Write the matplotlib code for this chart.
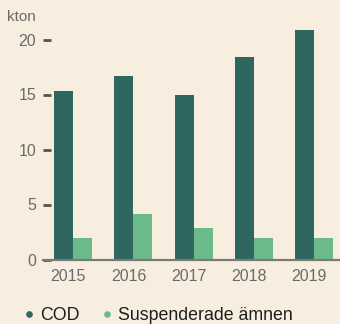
import numpy as np
import matplotlib.pyplot as plt
from matplotlib.lines import Line2D

# utsläpp till vatten, kton per år
years = ['2015', '2016', '2017', '2018', '2019']
cod = [15.3, 16.7, 15.0, 18.4, 20.9]
susp = [2.0, 4.1, 2.9, 2.0, 2.0]

bg = '#f7eedf'
c_cod = '#2f6660'
c_susp = '#6bbb8a'
grey = '#6a6a6a'

plt.rcParams['font.family'] = ['Liberation Sans', 'DejaVu Sans']

fig = plt.figure(figsize=(3.4, 3.24), dpi=100, facecolor=bg)
ax = fig.add_axes([43 / 340, 64.5 / 324, 297 / 340, 231 / 324], facecolor=bg)

x = np.arange(len(years))
w = 0.315
ax.bar(x - w / 2, cod, w, color=c_cod)
ax.bar(x + w / 2, susp, w, color=c_susp)

ax.set_xlim(-0.5, 4.43)
ax.set_ylim(0, 21)
ax.set_yticks([0, 5, 10, 15, 20])
ax.set_xticks(x - 0.08)
ax.set_xticklabels(years)

for s in ['top', 'right', 'left']:
    ax.spines[s].set_visible(False)
ax.spines['bottom'].set_color('#7a7a7a')
ax.spines['bottom'].set_linewidth(1.6)

ax.tick_params(axis='y', direction='in', length=6, width=2, color='#555555',
               pad=5, labelsize=11.5, labelcolor=grey)
ax.tick_params(axis='x', length=0, pad=7, labelsize=11.5, labelcolor=grey)

fig.text(7 / 340, 1 - 17 / 324, 'kton', fontsize=11, color=grey, va='center')

handles = [Line2D([], [], ls='', marker='o', ms=3.8, color=c_cod),
           Line2D([], [], ls='', marker='o', ms=3.8, color=c_susp)]
fig.legend(handles, ['COD', 'Suspenderade ämnen'], loc='center left',
           bbox_to_anchor=(8 / 340, 1 - 316 / 324), ncol=2, frameon=False,
           fontsize=12.8, handlelength=0.6, handletextpad=0.3,
           columnspacing=1.25, labelcolor='#1e1e1e')

fig.savefig('out.png', dpi=100, facecolor=bg)
